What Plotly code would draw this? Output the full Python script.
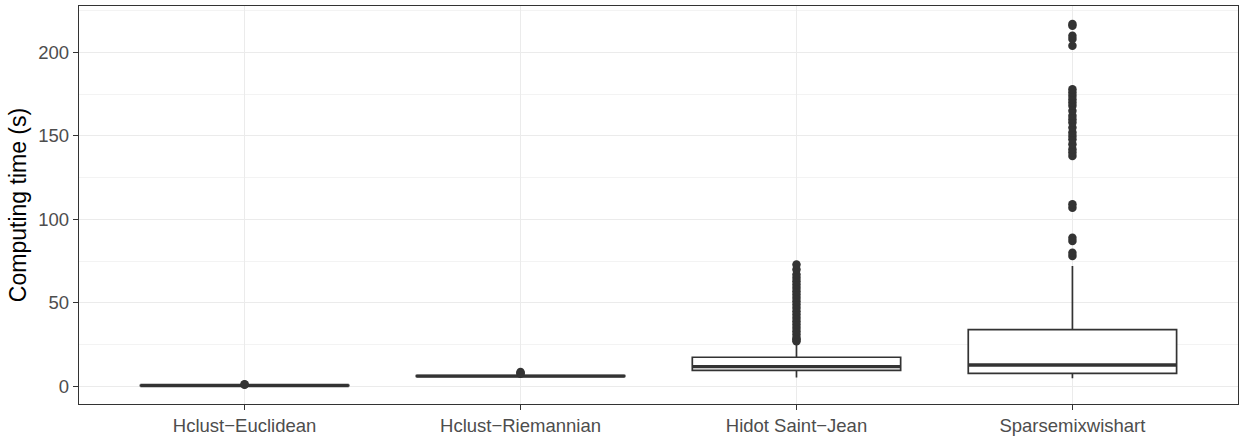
import plotly.graph_objects as go

categories = ["Hclust\u2212Euclidean", "Hclust\u2212Riemannian", "Hidot Saint\u2212Jean", "Sparsemixwishart"]
q1 = [0.4, 5.9, 9.6, 7.8]
median = [0.5, 6.1, 11.8, 12.8]
q3 = [0.6, 6.4, 17.4, 34.0]
lower_whisker = [0.2, 5.5, 5.3, 4.8]
upper_whisker = [0.9, 7.0, 26.0, 72.0]
outliers = [
    [1.0, 1.2],
    [7.5, 8.0, 8.5],
    [27, 28, 29, 31, 33, 35, 37, 39, 41, 43, 45, 47, 49, 51, 53, 55, 57, 59, 61, 63, 65, 67, 70, 73],
    [78, 80, 87, 89, 107, 109, 138, 140, 142, 145, 148, 150, 152, 155, 158, 160, 162, 165,
     168, 170, 172, 174, 176, 178, 204, 208, 210, 216, 217],
]

DARK = "#333333"
fig = go.Figure()
xpos = list(range(len(categories)))
fig.add_trace(go.Box(
    x=xpos, q1=q1, median=median, q3=q3,
    lowerfence=lower_whisker, upperfence=upper_whisker,
    width=0.755, fillcolor="white",
    line=dict(color=DARK, width=1.7), whiskerwidth=0,
    boxpoints=False, showlegend=False, hoverinfo="skip",
))
# thicker median lines, as in ggplot
half = 0.755 / 2
for i, m in enumerate(median):
    fig.add_trace(go.Scatter(
        x=[xpos[i] - half, xpos[i] + half], y=[m, m], mode="lines",
        line=dict(color=DARK, width=3.4), showlegend=False, hoverinfo="skip"))
for i, pts in enumerate(outliers):
    fig.add_trace(go.Scatter(
        x=[xpos[i]] * len(pts), y=pts, mode="markers",
        marker=dict(color=DARK, size=8.5), showlegend=False))

fig.update_layout(
    width=1240, height=437,
    margin=dict(l=79, r=2, t=6, b=33, autoexpand=False),
    plot_bgcolor="white", paper_bgcolor="white",
    font=dict(family="Liberation Sans, Arial, sans-serif", color="#4D4D4D"),
)
fig.update_xaxes(
    range=[-0.6, 3.6], tickvals=xpos, ticktext=categories, automargin=False,
    showgrid=True, gridcolor="#EBEBEB", gridwidth=1.2,
    zeroline=False, showline=True, linecolor=DARK, linewidth=1.3, mirror=True,
    ticks="outside", ticklen=5, tickcolor=DARK, tickwidth=1.2,
    tickfont=dict(size=18.5, color="#4D4D4D"),
)
fig.update_yaxes(
    range=[-10.6, 227.8], tick0=0, dtick=50, automargin=False,
    showgrid=True, gridcolor="#EBEBEB", gridwidth=1.2,
    minor=dict(dtick=25, tick0=0, showgrid=True, gridcolor="#F3F3F3", gridwidth=0.8),
    zeroline=False, showline=True, linecolor=DARK, linewidth=1.3, mirror=True,
    ticks="outside", ticklen=5, tickcolor=DARK, tickwidth=1.2,
    tickfont=dict(size=18.5, color="#4D4D4D"),
    title=dict(text="Computing time (s)", font=dict(size=23, color="black"), standoff=5),
)
fig.write_html("out.html", config={"displayModeBar": False},
               post_script="document.body.style.margin='0';")
